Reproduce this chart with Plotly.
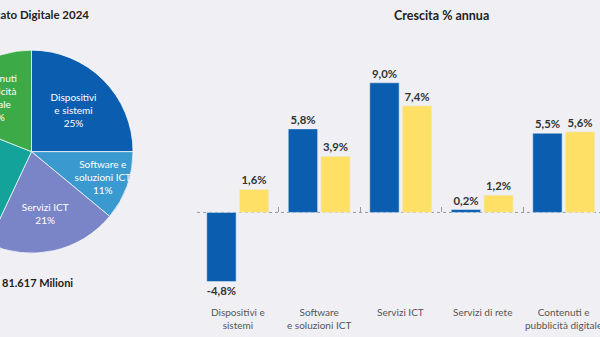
import plotly.graph_objects as go

# ---------------- data ----------------
pie_labels = ["Dispositivi<br>e sistemi", "Software e<br>soluzioni ICT", "Servizi ICT",
              "Servizi<br>di rete", "Contenuti<br>pubblicità<br>digitale"]
pie_values = [25, 11, 21, 24, 19]
pie_colors = ["#0B5EAF", "#3A9AD0", "#7A85C8", "#14A39A", "#3DAA48"]
pie_title = "Mercato Digitale 2024"
pie_total = "81.617 Milioni"

categories = ["Dispositivi e<br>sistemi", "Software<br>e soluzioni ICT", "Servizi ICT",
              "Servizi di rete", "Contenuti e<br>pubblicità digitale"]
growth_a = [-4.8, 5.8, 9.0, 0.2, 5.5]
growth_b = [1.6, 3.9, 7.4, 1.2, 5.6]
bar_title = "Crescita % annua"

# ---------------- layout constants ----------------
W, H = 670, 337          # figure is wider; left 70 px are shifted out of view
SHIFT = 70
BG = "#F0F0F4"
FONT = "Lato"
y_range = [-8.65, 14.75]
x_pos = list(range(len(categories)))
x_range = [-0.5, -0.5 + (W - 267) / 81.5]
zero_pos = (0 - y_range[0]) / (y_range[1] - y_range[0])

fig = go.Figure()

fig.add_trace(go.Pie(
    labels=pie_labels, values=pie_values, sort=False, direction="clockwise",
    marker=dict(colors=pie_colors, line=dict(color="rgba(255,255,255,0.7)", width=1)),
    texttemplate="%{label}<br>%{value}%", textposition="inside",
    insidetextorientation="horizontal",
    textfont=dict(color="white", size=10, family=FONT),
    domain=dict(x=[0, 203 / W], y=[1 - 253.3 / H, 1 - 50 / H]),
    showlegend=False, hoverinfo="label+percent",
))

common = dict(textposition="outside", cliponaxis=False, texttemplate="%{y:.1f}%",
              textfont=dict(color="#333333", size=11.5, family=FONT, weight="bold"))
fig.add_trace(go.Bar(x=x_pos, y=growth_a, name="2024", marker_color="#0B5EAF",
                     showlegend=False, **common))
fig.add_trace(go.Bar(x=x_pos, y=growth_b, name="2025", marker_color="#FFE066",
                     showlegend=False, **common))

annotations = [
    dict(text=pie_title, xref="paper", yref="paper", x=101.5 / W, y=1 - 15 / H,
         xanchor="center", yanchor="middle", showarrow=False,
         font=dict(size=11.5, color="#222222", family=FONT, weight="bold")),
    dict(text=pie_total, xref="paper", yref="paper", x=107.5 / W, y=1 - 282 / H,
         xanchor="center", yanchor="middle", showarrow=False,
         font=dict(size=11, color="#222222", family=FONT, weight="bold")),
    dict(text=bar_title, xref="x", yref="paper", x=2.5, y=1 - 16 / H,
         xanchor="center", yanchor="middle", showarrow=False,
         font=dict(size=12.5, color="#222222", family=FONT, weight="bold")),
]
for xi, cat in zip(x_pos, categories):
    annotations.append(dict(text=cat, xref="x", yref="paper", x=xi, y=1 - 304 / H,
                            xanchor="center", yanchor="top", showarrow=False,
                            font=dict(size=10, color="#555555", family=FONT)))

fig.update_layout(
    width=W, height=H, autosize=False,
    margin=dict(l=0, r=0, t=0, b=0),
    paper_bgcolor=BG, plot_bgcolor=BG,
    separators=",.",
    uniformtext=dict(minsize=10, mode="show"),
    barmode="group", bargap=0.2, bargroupgap=0.1,
    xaxis=dict(domain=[267 / W, 1], range=x_range, anchor="free", position=zero_pos,
               showgrid=False, zeroline=False, showline=False, showticklabels=False,
               tickmode="array", tickvals=[x - 0.5 for x in x_pos],
               ticks="inside", ticklen=5, tickcolor="#999999", tickwidth=1),
    yaxis=dict(domain=[0, 1], range=y_range, visible=False),
    shapes=[dict(type="line", xref="x", yref="y", x0=x_range[0], x1=x_range[1],
                 y0=0, y1=0, layer="below",
                 line=dict(color="#999999", width=1, dash="dot"))],
    annotations=annotations,
)

post = ("var d=document.getElementById('{plot_id}');"
        "d.style.marginLeft='-%dpx';"
        "document.body.style.margin='0';"
        "document.body.style.overflow='hidden';" % SHIFT)
fig.write_html("out.html", post_script=post, default_width="%dpx" % W,
               default_height="%dpx" % H)
